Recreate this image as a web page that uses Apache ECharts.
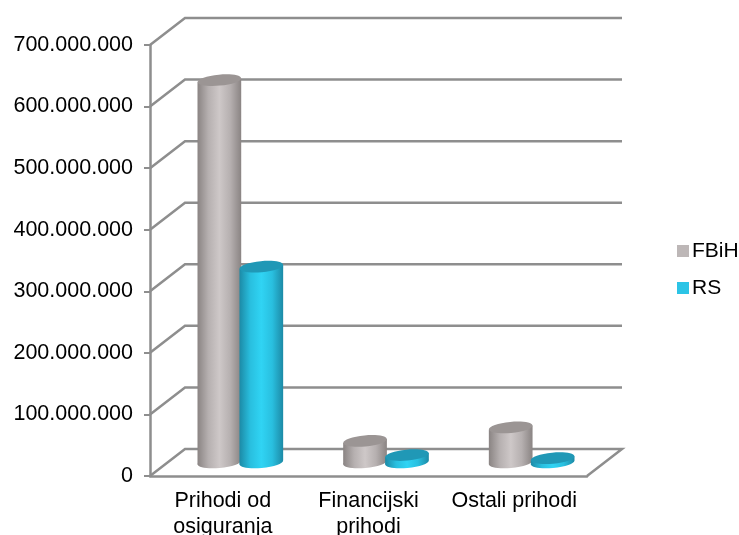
<!DOCTYPE html>
<html>
<head>
<meta charset="utf-8">
<style>html,body{margin:0;padding:0;background:#fff}#c{width:739px;height:535px}</style>
<script src="https://cdn.jsdelivr.net/npm/echarts@6/dist/echarts.min.js"></script>
</head>
<body>
<div id="c"></div>
<script>
const categories = ['Prihodi od\nosiguranja', 'Financijski\nprihodi', 'Ostali prihodi'];
const fbih = [621000000, 35000000, 57000000];
const rs = [318000000, 12000000, 7000000];
const yTicks = [0, 100000000, 200000000, 300000000, 400000000, 500000000, 600000000, 700000000];

const depthX = 35, depthY = 27, lineColor = '#8e8e8e';
const chart = echarts.init(document.getElementById('c'), null, {renderer: 'canvas'});

function wallItem(params, api) {
  const cs = params.coordSys;
  const y = api.coord([0, api.value(0)])[1];
  const x0 = cs.x, x1 = cs.x + cs.width;
  const style = {fill: null, stroke: lineColor, lineWidth: 2.5, lineJoin: 'miter'};
  const pts = [[x0, y], [x0 + depthX, y - depthY], [x1 + depthX, y - depthY]];
  if (api.value(0) === 0) pts.push([x1, y]);
  return {type: 'polyline', shape: {points: pts}, style: style, silent: true};
}

function cylinder(side, edge, mid, top) {
  return function (params, api) {
    const p = api.coord([api.value(0), api.value(1)]);
    const z = api.coord([api.value(0), 0]);
    const band = api.size([1, 0])[0];
    const cx = p[0] + depthX / 2 + side * band * 0.144;
    const yt = p[1] - depthY / 2, yb = z[1] - depthY / 2;
    const r = band * 0.15, ry = 5.5, tilt = 2;
    const grad = new echarts.graphic.LinearGradient(0, 0, 1, 0, [
      {offset: 0, color: edge}, {offset: 0.25, color: mid[0]},
      {offset: 0.5, color: mid[1]}, {offset: 0.75, color: mid[0]}, {offset: 1, color: edge}
    ]);
    const rot = Math.atan2(tilt, r);
    return {type: 'group', silent: true, children: [
      {type: 'ellipse', shape: {cx: cx, cy: yb, rx: r, ry: ry}, rotation: rot, originX: cx, originY: yb, style: {fill: grad}},
      {type: 'polygon', shape: {points: [[cx - r, yt + tilt], [cx + r, yt - tilt], [cx + r, yb - tilt], [cx - r, yb + tilt]]}, style: {fill: grad}},
      {type: 'ellipse', shape: {cx: cx, cy: yt, rx: r, ry: ry}, rotation: rot, originX: cx, originY: yt, style: {fill: top}}
    ]};
  };
}

chart.setOption({
  animation: false,
  backgroundColor: '#fff',
  textStyle: {fontFamily: 'Liberation Sans'},
  legend: {
    data: ['FBiH', 'RS'], orient: 'vertical', left: 672, top: 233, itemWidth: 12, itemHeight: 12, itemGap: 11,
    icon: 'rect', textStyle: {fontSize: 21, lineHeight: 24, color: '#000', padding: [2, 0, 0, -2]}
  },
  grid: {left: 150, top: 45, width: 437, height: 431, outerBoundsMode: 'none'},
  xAxis: {
    type: 'category', data: categories,
    axisLine: {lineStyle: {color: lineColor, width: 2.5}},
    axisTick: {length: 6, lineStyle: {color: lineColor, width: 2}},
    axisLabel: {fontSize: 21.5, color: '#000', margin: 12, lineHeight: 26, interval: 0}
  },
  yAxis: {
    type: 'value', min: 0, max: 700000000, interval: 100000000,
    axisLine: {show: true, lineStyle: {color: lineColor, width: 2.5}},
    axisTick: {show: true, length: 6, lineStyle: {color: lineColor, width: 2}},
    splitLine: {show: false},
    axisLabel: {fontSize: 21.5, color: '#000', margin: 17, padding: [4, 0, 0, 0],
      formatter: v => String(v).replace(/\B(?=(\d{3})+$)/g, '.')}
  },
  series: [
    {type: 'custom', name: 'wall', coordinateSystem: 'cartesian2d', z: 1, silent: true,
      renderItem: wallItem, data: yTicks.map(v => [v]), encode: {y: 0}, clip: false},
    {type: 'custom', name: 'FBiH', z: 2, silent: true, itemStyle: {color: '#bdb7b7'},
      renderItem: cylinder(-1, '#8a8483', ['#b6b0b0', '#cec8c8'], '#9b9594'),
      data: fbih.map((v, i) => [i, v]), encode: {x: 0, y: 1}, clip: false},
    {type: 'custom', name: 'RS', z: 3, silent: true, itemStyle: {color: '#2cc4e6'},
      renderItem: cylinder(1, '#1c8aa6', ['#29bfdf', '#30d4f4'], '#2098b6'),
      data: rs.map((v, i) => [i, v]), encode: {x: 0, y: 1}, clip: false}
  ]
});
</script>
</body>
</html>
